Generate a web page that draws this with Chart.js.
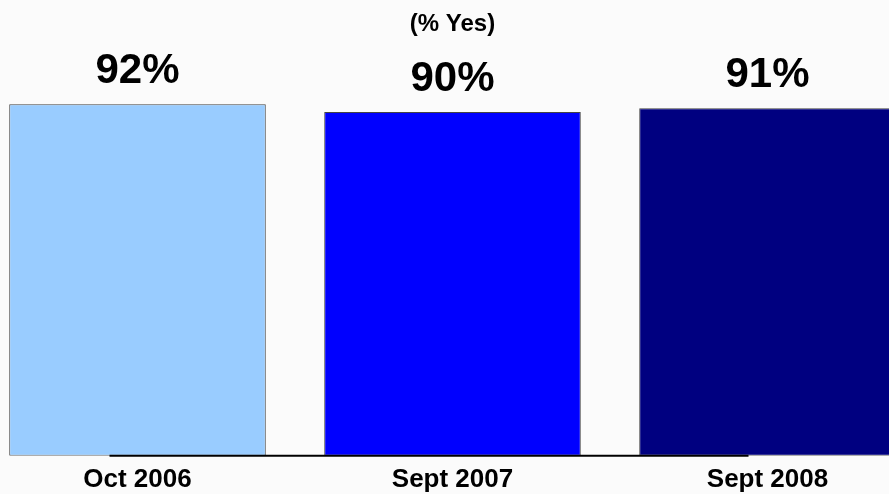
<!DOCTYPE html>
<html>
<head>
<meta charset="utf-8">
<script src="https://cdn.jsdelivr.net/npm/chart.js@4"></script>
<style>
  html, body { margin: 0; padding: 0; width: 889px; height: 494px; overflow: hidden; background: #fbfbfb; }
  #wrap { position: absolute; left: -20px; top: 0; width: 945px; height: 503px; }
</style>
</head>
<body>
<div id="wrap"><canvas id="c" width="945" height="503"></canvas></div>
<script>
const categories = ["Oct 2006", "Sept 2007", "Sept 2008"];
const yesValues = [92, 90, 91];
const barColors = ["#99CCFF", "#0000FF", "#000080"];
const titleText = "(% Yes)";

const FONT = "'Liberation Sans', Arial, Helvetica, sans-serif";

const valueLabels = {
  id: "valueLabels",
  afterDatasetsDraw(chart) {
    const ctx = chart.ctx;
    const meta = chart.getDatasetMeta(0);
    ctx.save();
    ctx.font = "bold 42px " + FONT;
    ctx.fillStyle = "#000";
    ctx.textAlign = "center";
    ctx.textBaseline = "alphabetic";
    meta.data.forEach((bar, i) => {
      ctx.fillText(yesValues[i] + "%", bar.x, bar.y - 21);
    });
    // partial baseline
    const xs = chart.scales.x;
    const y = chart.chartArea.bottom;
    ctx.strokeStyle = "#000";
    ctx.lineWidth = 2;
    ctx.beginPath();
    ctx.moveTo(xs.getPixelForValue(0) - 28, y);
    ctx.lineTo(xs.getPixelForValue(2) - 19, y);
    ctx.stroke();
    ctx.restore();
  }
};

new Chart(document.getElementById("c"), {
  type: "bar",
  data: {
    labels: categories,
    datasets: [{
      data: yesValues,
      backgroundColor: barColors,
      borderColor: "#444",
      borderWidth: 1,
      borderSkipped: false,
      barPercentage: 0.9,
      categoryPercentage: 0.905
    }]
  },
  options: {
    responsive: false,
    animation: false,
    layout: { padding: { top: 0, bottom: 0, left: 0, right: 0 } },
    plugins: {
      legend: { display: false },
      tooltip: { enabled: false },
      title: {
        display: true,
        text: titleText,
        color: "#000",
        font: { family: FONT, size: 24, weight: "bold" },
        padding: { top: 10, bottom: 35 }
      }
    },
    scales: {
      x: {
        grid: { display: false, drawTicks: false },
        border: { display: false },
        ticks: {
          color: "#000",
          padding: 8,
          font: { family: FONT, size: 26, weight: "bold" }
        }
      },
      y: {
        display: false,
        min: 0,
        max: 100
      }
    }
  },
  plugins: [valueLabels]
});
</script>
</body>
</html>
